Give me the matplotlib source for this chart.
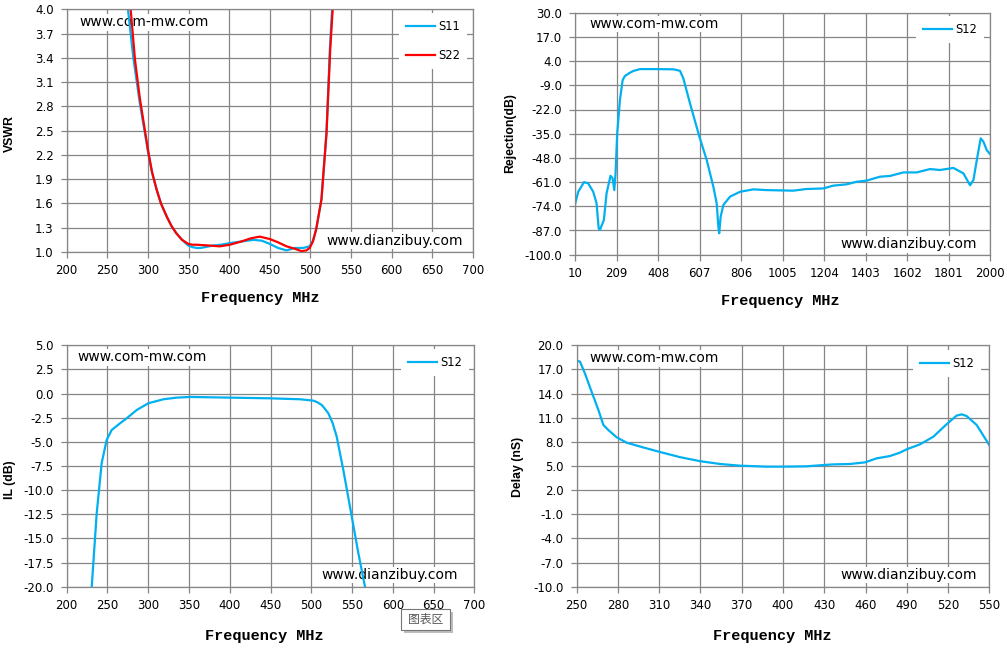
import matplotlib
matplotlib.use("Agg")
import matplotlib.pyplot as plt
from matplotlib.patches import Rectangle
import numpy as np

# ---------------- data ----------------
# VSWR (top-left)
vswr_s11_f = [275.4, 282, 290, 300.4, 305, 310.7, 316, 323, 329, 335, 342, 349.6, 355, 359.8, 365, 370, 380, 390, 400.8, 415, 429.5, 440, 450, 460, 470.5, 480.7, 491, 499, 503, 507, 513.5, 519.7, 523.8, 526.6]
vswr_s11_v = [4.00, 3.40, 2.84, 2.22, 1.98, 1.77, 1.60, 1.44, 1.32, 1.23, 1.15, 1.08, 1.06, 1.05, 1.05, 1.06, 1.08, 1.09, 1.11, 1.13, 1.15, 1.14, 1.10, 1.05, 1.02, 1.05, 1.05, 1.07, 1.14, 1.28, 1.65, 2.47, 3.50, 4.00]
vswr_s22_f = [278.7, 284, 290, 300.4, 305, 310.7, 316, 323, 329, 335, 342, 349.6, 355, 359.8, 375, 388.5, 400.8, 415, 427, 437.7, 450, 460, 470.5, 480.7, 489, 495, 499, 503, 507, 513.5, 519.7, 524.3, 527.3]
vswr_s22_v = [4.00, 3.38, 2.90, 2.24, 1.99, 1.77, 1.60, 1.44, 1.32, 1.23, 1.15, 1.10, 1.09, 1.09, 1.08, 1.07, 1.09, 1.13, 1.17, 1.19, 1.16, 1.12, 1.07, 1.04, 1.01, 1.02, 1.05, 1.13, 1.28, 1.65, 2.47, 3.50, 4.00]

# Rejection (top-right)
rej_f = [10, 24, 52, 72, 96, 112, 122, 128, 147, 160, 179, 189, 197, 203, 211, 224, 237, 248, 268, 288, 320, 400, 480, 512, 528, 560, 605, 640, 672, 688, 696, 700, 707, 720, 752, 800, 864, 928, 1055, 1119, 1199, 1247, 1311, 1359, 1407, 1471, 1519, 1583, 1647, 1711, 1759, 1823, 1871, 1903, 1919, 1938, 1954, 1967, 1983, 2000]
rej_v = [-72.4, -66.2, -61.0, -61.7, -66.2, -72.4, -85.8, -86.7, -81.4, -67.0, -57.6, -59.0, -65.3, -56.3, -34.8, -16.9, -6.2, -4.0, -2.5, -1.3, -0.3, -0.3, -0.4, -1.2, -5.3, -18.7, -36.6, -49.1, -63.5, -72.4, -85.0, -88.5, -79.6, -73.3, -68.8, -66.2, -64.9, -65.3, -65.6, -64.7, -64.4, -62.9, -62.2, -60.8, -60.2, -58.1, -57.7, -55.8, -55.8, -54.0, -54.5, -53.4, -56.3, -62.7, -59.9, -47.4, -37.5, -39.3, -43.8, -46.1]

# Insertion loss (bottom-left)
il_f = [230.7, 236.8, 242.9, 249, 255.2, 265.4, 273.6, 285.9, 300.2, 318.6, 334.9, 351.3, 400.3, 449.4, 486.2, 502.5, 507, 512.8, 516.5, 520.9, 526, 531.2, 539.3, 549.6, 557.7, 565.9]
il_v = [-20.0, -12.4, -7.2, -4.8, -3.77, -3.08, -2.56, -1.7, -1.0, -0.59, -0.42, -0.35, -0.42, -0.49, -0.59, -0.73, -0.88, -1.18, -1.55, -2.04, -3.0, -4.46, -7.9, -12.7, -16.5, -20.0]

# Group delay (bottom-right)
dl_f = [250, 252.4, 256, 260.9, 265.7, 269.4, 273, 279.1, 286.3, 298.5, 310.6, 325.1, 339.7, 354.2, 368.7, 388.1, 400.2, 417.2, 429.3, 436.6, 448.7, 459.6, 468.1, 477.8, 485, 489.9, 499.6, 509.3, 518.9, 526.2, 529.9, 533.5, 540.8, 550]
dl_v = [18.1, 17.97, 16.5, 14.2, 12.0, 10.1, 9.47, 8.56, 7.9, 7.3, 6.74, 6.1, 5.6, 5.25, 5.04, 4.92, 4.92, 4.96, 5.12, 5.2, 5.25, 5.45, 5.95, 6.24, 6.66, 7.07, 7.69, 8.64, 10.18, 11.26, 11.42, 11.21, 10.1, 7.6]

vswr_xticks = list(range(200, 701, 50))
vswr_yticks = [1.0, 1.3, 1.6, 1.9, 2.2, 2.5, 2.8, 3.1, 3.4, 3.7, 4.0]
rej_xticks = [10, 209, 408, 607, 806, 1005, 1204, 1403, 1602, 1801, 2000]
rej_yticks = [-100, -87, -74, -61, -48, -35, -22, -9, 4, 17, 30]
il_xticks = list(range(200, 701, 50))
il_yticks = [-20, -17.5, -15, -12.5, -10, -7.5, -5, -2.5, 0, 2.5, 5]
dl_xticks = [250, 280, 310, 340, 370, 400, 430, 460, 490, 520, 550]
dl_yticks = [-10, -7, -4, -1, 2, 5, 8, 11, 14, 17, 20]

BLUE = "#00B0F0"
RED = "#FF0000"
GRID = "#868686"

W, H = 1007, 649
fig = plt.figure(figsize=(W / 100, H / 100), dpi=100)
fig.patch.set_facecolor("white")


def px_axes(x0, y0, x1, y1):
    return fig.add_axes([x0 / W, 1 - y1 / H, (x1 - x0) / W, (y1 - y0) / H])


def style(ax, xt, yt):
    ax.set_xlim(xt[0], xt[-1])
    ax.set_ylim(yt[0], yt[-1])
    ax.set_xticks(xt)
    ax.set_yticks(yt)
    ax.set_xticklabels([str(v) for v in xt])
    ax.set_yticklabels(["%.1f" % v for v in yt])
    ax.grid(True, color=GRID, linewidth=0.9, zorder=0.5)
    ax.set_axisbelow(True)
    for s in ax.spines.values():
        s.set_color(GRID)
        s.set_linewidth(0.9)
    ax.tick_params(axis="both", direction="out", length=4, width=0.9,
                   color=GRID, labelsize=8.5, labelcolor="black")
    ax.tick_params(axis="x", pad=4.5)
    ax.tick_params(axis="y", pad=5.5)


def px_text(x, y, s, **kw):
    fig.text(x / W, 1 - y / H, s, **kw)


def watermark(ax, x, y, s):
    ax.text(x / W, 1 - y / H, s, transform=fig.transFigure, fontsize=10,
            family="DejaVu Sans", va="center", ha="left", clip_on=False,
            bbox=dict(facecolor="white", edgecolor="none", pad=1.0), zorder=1.5)


def legend(ax, x, y):
    leg = ax.legend(loc="center left", bbox_to_anchor=(x / W, 1 - y / H),
                    bbox_transform=fig.transFigure, fontsize=8.3, frameon=True,
                    fancybox=False, borderpad=0.6, handlelength=2.5,
                    handletextpad=0.3, labelspacing=1.4)
    leg.get_frame().set_facecolor("white")
    leg.get_frame().set_edgecolor("none")
    leg.get_frame().set_alpha(1)


xl_kw = dict(fontsize=11, family="Liberation Mono", fontweight="bold",
             ha="center", va="center")
yl_kw = dict(fontsize=8.8, family="Liberation Sans", fontweight="bold",
             ha="center", va="center", rotation=90)

# ---- top-left: VSWR ----
ax1 = px_axes(66.7, 9.3, 473.0, 252.0)
ax1.plot(vswr_s11_f, vswr_s11_v, color=BLUE, lw=1.6, label="S11", zorder=2)
ax1.plot(vswr_s22_f, vswr_s22_v, color=RED, lw=1.6, label="S22", zorder=2.1)
style(ax1, vswr_xticks, vswr_yticks)
legend(ax1, 393.0, 41.2)
watermark(ax1, 79, 22.3, "www.com-mw.com")
watermark(ax1, 326, 240.7, "www.dianzibuy.com")
px_text(260, 298.3, "Frequency MHz", **xl_kw)
px_text(10, 134, "VSWR", **yl_kw)

# ---- top-right: Rejection ----
ax2 = px_axes(575.3, 12.7, 990.3, 254.7)
ax2.plot(rej_f, rej_v, color=BLUE, lw=1.6, label="S12", zorder=2)
style(ax2, rej_xticks, rej_yticks)
legend(ax2, 910.0, 29.3)
watermark(ax2, 589.3, 24, "www.com-mw.com")
watermark(ax2, 840.7, 244.3, "www.dianzibuy.com")
px_text(780.5, 301, "Frequency MHz", **xl_kw)
px_text(510, 132.7, "Rejection(dB)", **yl_kw)

# ---- bottom-left: IL ----
ax3 = px_axes(66.7, 345.3, 474.3, 586.7)
ax3.plot(il_f, il_v, color=BLUE, lw=1.6, label="S12", zorder=2)
style(ax3, il_xticks, il_yticks)
legend(ax3, 395.3, 362.3)
watermark(ax3, 77.3, 357.3, "www.com-mw.com")
watermark(ax3, 321.7, 575, "www.dianzibuy.com")
px_text(264.2, 636, "Frequency MHz", **xl_kw)
px_text(10, 480, "IL (dB)", **yl_kw)

# ---- bottom-right: Delay ----
ax4 = px_axes(576.7, 345.3, 989.3, 586.7)
ax4.plot(dl_f, dl_v, color=BLUE, lw=1.6, label="S12", zorder=2)
style(ax4, dl_xticks, dl_yticks)
legend(ax4, 907.6, 363.3)
watermark(ax4, 589.3, 358.3, "www.com-mw.com")
watermark(ax4, 840, 575, "www.dianzibuy.com")
px_text(772.5, 636, "Frequency MHz", **xl_kw)
px_text(518.3, 466.7, "Delay (nS)", **yl_kw)

# ---- Excel tooltip "图表区" ----
fig.patches.append(Rectangle((403.5 / W, 1 - 633 / H), 49.3 / W, 21 / H,
                             transform=fig.transFigure, facecolor="#BDBDBD",
                             edgecolor="none", zorder=9))
fig.patches.append(Rectangle((400.7 / W, 1 - 630 / H), 49.3 / W, 21 / H,
                             transform=fig.transFigure, facecolor="white",
                             edgecolor="#767676", linewidth=0.8, zorder=10))
px_text(425.3, 619.5, "图表区", fontsize=8.5,
        family=["Noto Sans CJK SC", "DejaVu Sans"], color="#575757",
        ha="center", va="center", zorder=11)

fig.savefig("out.png", dpi=100, facecolor="white")
